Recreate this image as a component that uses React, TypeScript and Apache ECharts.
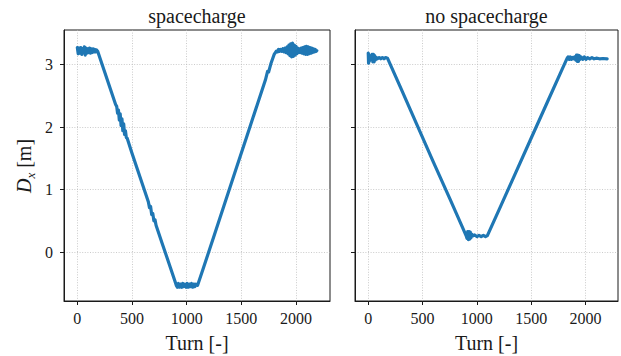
import React, { useEffect, useRef } from 'react';
import * as echarts from 'echarts';

const xTicks = [0, 500, 1000, 1500, 2000];
const yTicks = [0, 1, 2, 3];
const panelTitles = ['spacecharge', 'no spacecharge'];

const scTurn = [0, 8, 16, 24, 32, 40, 48, 56, 64, 72, 80, 88, 96, 104, 112, 120, 128, 136, 144, 152, 160, 168, 176, 186,
  250, 300, 350, 360, 368, 376, 384, 392, 400, 408, 416, 424, 432, 440, 448, 456, 500, 550, 600, 650, 660, 670, 680, 690, 700, 710, 720, 780, 850, 890, 905,
  915, 925, 935, 945, 955, 965, 975, 985, 995, 1005, 1015, 1025, 1035, 1045, 1055, 1065, 1075, 1085, 1100,
  1150, 1250, 1350, 1450, 1550, 1650, 1720, 1740, 1750, 1770, 1800, 1820,
  1830, 1840, 1850, 1860, 1870, 1880, 1890, 1900, 1910, 1920, 1928, 1936, 1944, 1952, 1960, 1968, 1976, 1984, 1992, 2000,
  2008, 2016, 2024, 2032, 2040, 2048, 2056, 2064, 2072, 2080, 2088, 2096, 2104, 2112, 2120, 2128, 2136, 2144, 2152, 2160, 2168, 2176, 2184, 2190];
const scDx = [3.27, 3.17, 3.26, 3.18, 3.27, 3.16, 3.25, 3.19, 3.28, 3.15, 3.26, 3.18, 3.25, 3.19, 3.26, 3.18, 3.25, 3.19, 3.25, 3.20, 3.24, 3.20, 3.23, 3.21,
  2.88, 2.62, 2.36, 2.33, 2.22, 2.27, 2.11, 2.21, 2.02, 2.13, 1.94, 2.05, 1.88, 1.94, 1.83, 1.82, 1.58, 1.32, 1.06, 0.80, 0.71, 0.73, 0.60, 0.62, 0.50, 0.52, 0.43, 0.12, -0.24, -0.45, -0.53,
  -0.56, -0.50, -0.56, -0.51, -0.56, -0.50, -0.55, -0.51, -0.56, -0.50, -0.56, -0.51, -0.55, -0.50, -0.56, -0.51, -0.55, -0.51, -0.53,
  -0.27, 0.26, 0.79, 1.32, 1.85, 2.38, 2.75, 2.89, 2.88, 3.01, 3.16, 3.21,
  3.20, 3.24, 3.21, 3.24, 3.21, 3.25, 3.20, 3.26, 3.19, 3.28, 3.17, 3.31, 3.14, 3.33, 3.12, 3.34, 3.13, 3.31, 3.15, 3.29,
  3.17, 3.26, 3.19, 3.25, 3.19, 3.26, 3.18, 3.27, 3.17, 3.28, 3.16, 3.29, 3.16, 3.28, 3.17, 3.27, 3.18, 3.26, 3.19, 3.25, 3.20, 3.24, 3.21, 3.22];

const noScTurn = [0, 3, 6, 10, 15, 22, 30, 36, 42, 48, 54, 60, 66, 75, 85, 100, 115, 130, 145, 160, 177,
  300, 450, 600, 750, 880, 900, 910, 916, 922, 928, 934, 940, 946, 952, 960, 980, 1000, 1020, 1040, 1060, 1080, 1097,
  1200, 1350, 1500, 1650, 1780, 1832,
  1840, 1850, 1860, 1870, 1880, 1890, 1900, 1910, 1918, 1924, 1930, 1936, 1942, 1950, 1960, 1975, 1990, 2005, 2020, 2040, 2060, 2080, 2100, 2130, 2160, 2200];
const noScDx = [3.18, 3.02, 3.16, 3.05, 3.12, 3.08, 3.10, 3.16, 3.04, 3.16, 3.04, 3.14, 3.07, 3.11, 3.09, 3.11, 3.09, 3.11, 3.09, 3.11, 3.10,
  2.62, 2.03, 1.44, 0.86, 0.35, 0.27, 0.22, 0.33, 0.20, 0.33, 0.21, 0.32, 0.23, 0.29, 0.26, 0.275, 0.25, 0.27, 0.25, 0.27, 0.25, 0.265,
  0.66, 1.24, 1.82, 2.40, 2.90, 3.10,
  3.12, 3.08, 3.12, 3.08, 3.11, 3.09, 3.12, 3.07, 3.15, 3.05, 3.15, 3.05, 3.14, 3.08, 3.12, 3.08, 3.12, 3.08, 3.11, 3.09, 3.11, 3.09, 3.10, 3.09, 3.095, 3.09];

const FONT = 'Liberation Serif';
const INK = '#1a1a1a';
const BLUE = '#1f77b4';

export default function App() {
  const ref = useRef<HTMLDivElement>(null);
  useEffect(() => {
    if (!ref.current) return;
    const chart = echarts.init(ref.current, undefined, { renderer: 'svg' });
    const grids = [
      { left: 64, top: 30, width: 266, height: 271 },
      { left: 355, top: 30, width: 263, height: 271 },
    ];
    const xRanges = [[-122, 2311], [-122, 2300]];
    const gridLine = { show: true, lineStyle: { color: '#b5b5b5', width: 0.7, type: [1, 1.6] } };
    const mkX = (i: number) => ({
      type: 'value', gridIndex: i, min: xRanges[i][0], max: xRanges[i][1],
      axisLine: { show: true, onZero: false, lineStyle: { color: INK, width: 1 } },
      axisTick: { show: true, customValues: xTicks, length: 4, lineStyle: { color: INK, width: 1 } },
      axisLabel: {
        show: true, customValues: xTicks, fontFamily: FONT, fontSize: 16, color: INK, margin: 9,
        formatter: (v: number) => String(v),
      },
      splitLine: gridLine,
    });
    const mkY = (i: number) => ({
      type: 'value', gridIndex: i, min: -0.78, max: 3.55,
      axisLine: { show: true, onZero: false, lineStyle: { color: INK, width: 1 } },
      axisTick: { show: true, customValues: yTicks, length: 4, lineStyle: { color: INK, width: 1 } },
      axisLabel: {
        show: i === 0, customValues: yTicks, fontFamily: FONT, fontSize: 16, color: INK, margin: 11,
        formatter: (v: number) => String(v),
      },
      splitLine: gridLine,
    });
    const centers = grids.map((g) => g.left + g.width / 2);
    chart.setOption({
      animation: false,
      textStyle: { fontFamily: FONT },
      grid: grids.map((g) => ({ ...g, show: true, borderColor: INK, borderWidth: 1, backgroundColor: 'transparent' })),
      xAxis: [mkX(0), mkX(1)],
      yAxis: [mkY(0), mkY(1)],
      series: [
        {
          type: 'line', xAxisIndex: 0, yAxisIndex: 0, showSymbol: false, symbol: 'none',
          data: scTurn.map((t, i) => [t, scDx[i]]),
          lineStyle: { color: BLUE, width: 3.2, join: 'round', cap: 'round' },
        },
        {
          type: 'line', xAxisIndex: 1, yAxisIndex: 1, showSymbol: false, symbol: 'none',
          data: noScTurn.map((t, i) => [t, noScDx[i]]),
          lineStyle: { color: BLUE, width: 3.2, join: 'round', cap: 'round' },
        },
      ],
      graphic: [
        ...panelTitles.map((t, i) => ({
          type: 'text', x: centers[i], y: 16,
          style: { text: t, fontFamily: FONT, fontSize: 20, fill: INK, align: 'center', verticalAlign: 'middle' },
        })),
        ...centers.map((c) => ({
          type: 'text', x: c, y: 343,
          style: { text: 'Turn [-]', fontFamily: FONT, fontSize: 20, fill: INK, align: 'center', verticalAlign: 'middle' },
        })),
        {
          type: 'text', x: 24, y: 166, rotation: Math.PI / 2,
          style: {
            text: '{d|D}{s|x}{n| [m]}', align: 'center', verticalAlign: 'middle', fill: INK,
            rich: {
              d: { fontFamily: FONT, fontSize: 20, fontStyle: 'italic', lineHeight: 26, fill: INK },
              s: { fontFamily: FONT, fontSize: 13, fontStyle: 'italic', lineHeight: 14, verticalAlign: 'bottom', fill: INK },
              n: { fontFamily: FONT, fontSize: 20, lineHeight: 26, fill: INK },
            },
          },
        },
      ],
    });
    return () => chart.dispose();
  }, []);
  return <div ref={ref} style={{ position: 'fixed', left: 0, top: 0, width: 621, height: 356, background: '#fff' }} />;
}
